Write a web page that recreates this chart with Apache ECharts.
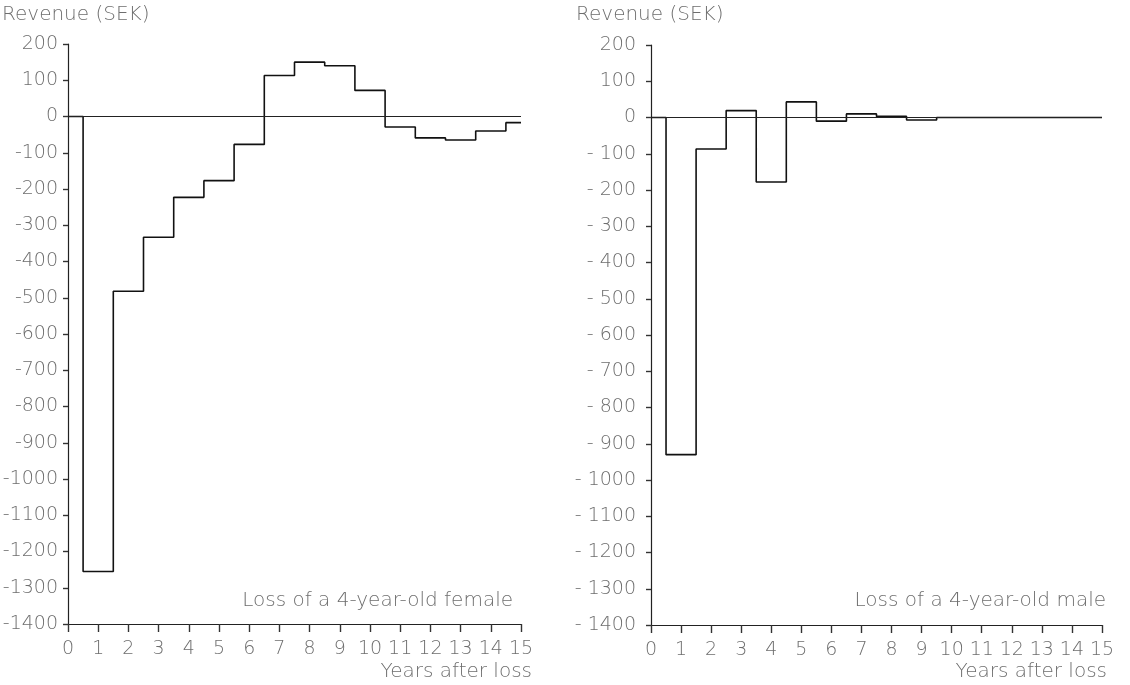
<!DOCTYPE html>
<html><head><meta charset="utf-8">
<script src="https://cdn.jsdelivr.net/npm/echarts@6/dist/echarts.min.js"></script>
<style>html,body{margin:0;padding:0;background:#fff}#c{width:1130px;height:685px}</style>
</head><body><div id="c"></div>
<script>
// Years after loss (1..15); each value spans year-0.5 .. year+0.5 (last clipped at 15)
var years = [1,2,3,4,5,6,7,8,9,10,11,12,13,14,15];
var femaleRevenue = [-1255,-482,-333,-223,-177,-77,113,150,140,72,-29,-59,-65,-40,-17];
var maleRevenue = [-930,-87,19,-178,43,-10,10,3,-7,0,0,0,0,0,0];
var xTicks = [0,15,1];          // min, max, interval
var yTicks = [-1400,200,100];   // min, max, interval
var yTitle = 'Revenue (SEK)';
var xTitle = 'Years after loss';
var femaleLabel = 'Loss of a 4-year-old female';
var maleLabel = 'Loss of a 4-year-old male';

function stepData(vals){
  var d = [[0,0],[years[0]-0.5,0]];
  for (var i=1;i<vals.length;i++) d.push([years[i]-0.5, vals[i-1]]);
  d.push([xTicks[1], vals[vals.length-1]]);
  return d;
}
var font = 'DejaVu Sans';
var fw = 200;
var fs = 19;
var txtColor = '#6e6e6e';
function xAxis(idx){
  return {gridIndex:idx,type:'value',position:'bottom',min:xTicks[0],max:xTicks[1],interval:xTicks[2],
    axisLine:{show:true,onZero:false,lineStyle:{color:'#222',width:1.2}},
    axisTick:{show:true,inside:false,length:8,lineStyle:{color:'#333',width:1.4}},
    axisLabel:{color:txtColor,fontFamily:font,fontWeight:fw,fontSize:fs,margin:16},
    splitLine:{show:false}};
}
function yAxis(idx, pad, margin){
  return {gridIndex:idx,type:'value',position:'left',min:yTicks[0],max:yTicks[1],interval:yTicks[2],
    axisLine:{show:true,onZero:false,lineStyle:{color:'#222',width:1.2}},
    axisTick:{show:true,inside:false,length:5,lineStyle:{color:'#333',width:1.4}},
    axisLabel:{color:txtColor,fontFamily:font,fontWeight:fw,fontSize:fs,margin:margin,
      formatter:function(v){return v<0 ? pad + String(-v) : String(v);}},
    splitLine:{show:false}};
}
function series(idx, vals){
  return {type:'line',xAxisIndex:idx,yAxisIndex:idx,step:'start',symbol:'none',
    data:stepData(vals),lineStyle:{color:'#111',width:1.6},
    markLine:{silent:true,symbol:'none',label:{show:false},
      lineStyle:{color:'#222',width:1,type:'solid'},data:[{yAxis:0}]},
    z:3};
}
function txt(x,y,s,align,size){
  return {type:'text',x:x,y:y,style:{text:s,fill:txtColor,fontFamily:font,fontWeight:fw,fontSize:size||fs,
    textAlign:align||'left',textVerticalAlign:'middle'}};
}
var chart = echarts.init(document.getElementById('c'));
chart.setOption({
  animation:false,
  grid:[{left:68,top:44,width:453,height:580,containLabel:false,outerBoundsMode:'none'},
        {left:651,top:45,width:451,height:580,containLabel:false,outerBoundsMode:'none'}],
  xAxis:[xAxis(0),xAxis(1)],
  yAxis:[yAxis(0,'-',10),yAxis(1,'- ',15)],
  series:[series(0,femaleRevenue),series(1,maleRevenue)],
  graphic:[
    txt(2,15,yTitle,'left',20),
    txt(576,15,yTitle,'left',20),
    txt(532,672,xTitle,'right',20),
    txt(1107,672,xTitle,'right',20),
    txt(513,601,femaleLabel,'right',20),
    txt(1106,601,maleLabel,'right',20)
  ]
});
</script></body></html>
